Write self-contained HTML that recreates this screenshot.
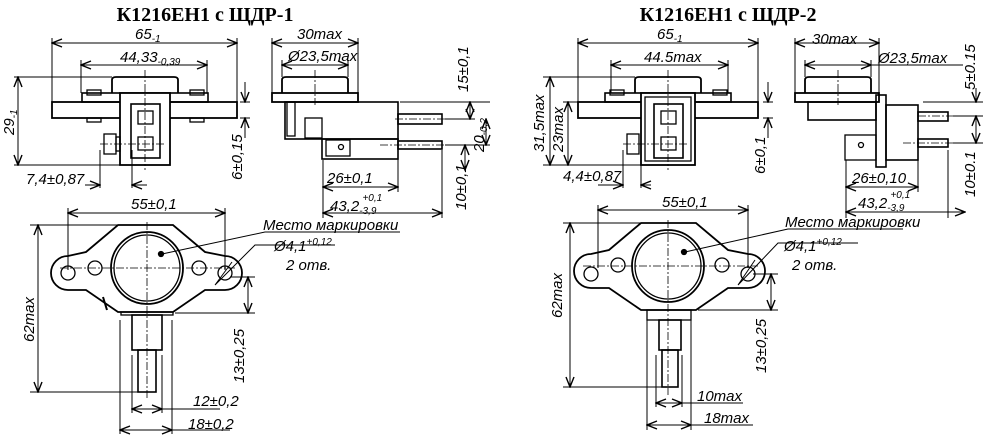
<!DOCTYPE html>
<html><head><meta charset="utf-8"><style>
html,body{margin:0;padding:0;background:#fff}
svg{display:block}
text{font-family:"Liberation Sans",sans-serif;font-style:italic;font-size:15px;fill:#000}
.t{font-family:"Liberation Serif",serif;font-style:normal;font-weight:bold;font-size:20px}
.s{font-size:10px}
.d path{marker-start:url(#b);marker-end:url(#e)}
.o path{marker-end:url(#e)}
</style></head><body>
<svg width="985" height="442" viewBox="0 0 985 442" xmlns="http://www.w3.org/2000/svg">
<defs>
<marker id="e" markerWidth="12" markerHeight="10" refX="11" refY="5" orient="auto" markerUnits="userSpaceOnUse"><path d="M1,1 L11,5 L1,9" fill="none" stroke="#000" stroke-width="1.4"/></marker>
<marker id="b" markerWidth="12" markerHeight="10" refX="1" refY="5" orient="auto" markerUnits="userSpaceOnUse"><path d="M11,1 L1,5 L11,9" fill="none" stroke="#000" stroke-width="1.4"/></marker>
</defs>
<g stroke="#000" stroke-width="1.3" fill="none">
<!-- ===== LEFT ===== -->
<path d="M112,93 L112,80 Q112,77 116,77 L174,77 Q178,77 178,80 L178,93" stroke-width="1.8"/>
<rect x="82" y="93" width="126" height="9" stroke-width="1.6"/>
<rect x="52" y="102" width="185" height="16" stroke-width="1.8"/>
<rect x="87" y="90" width="14" height="5"/><rect x="190" y="90" width="14" height="5"/>
<rect x="87" y="118" width="14" height="4"/><rect x="190" y="118" width="14" height="4"/>
<rect x="120" y="93" width="50" height="72" fill="#fff" stroke-width="1.8"/>
<rect x="131" y="104" width="29" height="54" stroke-width="1.6"/>
<rect x="138" y="111" width="15" height="13"/><rect x="138" y="137" width="15" height="13"/>
<rect x="104" y="134" width="12" height="20"/><rect x="116" y="137" width="4" height="14"/>
<path d="M282,93 L282,80 Q282,77 286,77 L344,77 Q348,77 348,80 L348,93" stroke-width="1.8"/>
<rect x="272" y="93" width="86" height="9" stroke-width="1.8"/>
<rect x="285" y="102" width="113" height="37" stroke-width="1.6"/>
<rect x="322" y="139" width="76" height="20" stroke-width="1.6"/>
<rect x="287" y="102" width="8" height="34"/><rect x="305" y="118" width="17" height="20"/>
<rect x="326" y="140" width="24" height="16"/><circle cx="341" cy="147" r="2.5"/>
<rect x="398" y="114" width="44" height="10" stroke-width="1.6"/>
<rect x="398" y="141" width="44" height="8" stroke-width="1.6"/>
<path d="M118,225 L173,225 L205,252 L225,256 A17,17 0 0 1 225,290 L205,290 L173,312 L118,312 L86,290 L68,290 A17,17 0 0 1 68,256 L86,252 Z" stroke-width="1.8"/>
<circle cx="147" cy="268" r="36" stroke-width="1.8"/><circle cx="147" cy="268" r="33"/>
<circle cx="68" cy="273" r="7"/><circle cx="225" cy="273" r="7"/>
<circle cx="95" cy="268" r="7"/><circle cx="199" cy="268" r="7"/>
<circle cx="161" cy="254" r="2.5" fill="#000"/>
<rect x="121" y="312" width="52" height="3"/>
<rect x="132" y="315" width="30" height="35" stroke-width="1.6"/>
<rect x="138" y="350" width="18" height="42" stroke-width="1.6"/>
<path d="M103,297 L107,310" stroke-width="2"/>
<g stroke-dasharray="8,2,2,2" stroke-width="0.8">
<path d="M145,70 V170 M100,144 H165 M315,70 V105 M395,119 H448 M380,145 H448 M147,222 V400 M60,268 H235"/>
</g>
<g stroke-width="1">
<path d="M52,38 V102 M237,38 V102 M81,60 V93 M207,60 V93 M14,77 H112 M14,165 H120 M100,150 V188 M132,150 V188 M240,102 H250 M240,118 H250 M272,38 V93 M358,38 V93 M282,60 V77 M348,60 V77 M323,160 V218 M398,150 V192 M442,150 V218 M400,102 H490 M445,119 H475 M445,145 H490 M68,208 V270 M225,208 V270 M30,225 H118 M30,392 H138 M230,277 H255 M175,313 H255 M132,355 V413 M162,355 V413 M120,320 V434 M172,320 V434 M162,409 H220 M172,430 H230"/>
<g class="d">
<path d="M52,43 H237"/><path d="M81,65 H207"/><path d="M18,77 V165"/><path d="M272,43 H358"/><path d="M282,65 H348"/><path d="M323,187 H398"/><path d="M323,213 H442"/><path d="M68,213 H225"/><path d="M38,225 V392"/><path d="M248,277 V313"/><path d="M132,409 H162"/><path d="M120,430 H172"/><path d="M470,102 V119"/><path d="M486,119 V145"/><path d="M465,145 V170"/>
</g>
<g class="o"><path d="M245,82 V102"/><path d="M245,138 V118"/><path d="M85,185 H100"/><path d="M147,185 H132"/></g>
<path d="M162,254 L265,232 H400 M215,285 L255,245 H335 M232,262 L215,285"/>
</g>
<!-- ===== RIGHT ===== -->
<g transform="translate(523,0)">
<path d="M112,93 L112,80 Q112,77 116,77 L174,77 Q178,77 178,80 L178,93" stroke-width="1.8"/>
<rect x="82" y="93" width="126" height="9" stroke-width="1.6"/>
<rect x="55" y="102" width="180" height="16" stroke-width="1.8"/>
<rect x="87" y="90" width="14" height="5"/><rect x="190" y="90" width="14" height="5"/>
<rect x="118" y="93" width="54" height="72" fill="#fff" stroke-width="1.8"/>
<rect x="122" y="97" width="46" height="64"/>
<rect x="131" y="104" width="29" height="54" stroke-width="1.6"/>
<rect x="138" y="111" width="15" height="13"/><rect x="138" y="137" width="15" height="13"/>
<rect x="104" y="134" width="12" height="20"/>
<path d="M282,93 L282,80 Q282,77 286,77 L344,77 Q348,77 348,80 L348,93" stroke-width="1.8"/>
<rect x="272" y="93" width="84" height="9" stroke-width="1.8"/>
<rect x="285" y="102" width="68" height="18" stroke-width="1.6"/>
<rect x="353" y="95" width="10" height="72" stroke-width="1.6"/>
<rect x="363" y="105" width="32" height="55" stroke-width="1.6"/>
<rect x="322" y="135" width="31" height="25"/><circle cx="338" cy="145" r="2.5"/>
<rect x="395" y="112" width="30" height="9" stroke-width="1.6"/>
<rect x="395" y="139" width="30" height="8" stroke-width="1.6"/>
<path d="M118,223 L173,223 L205,250 L225,254 A17,17 0 0 1 225,288 L205,288 L173,310 L118,310 L86,288 L68,288 A17,17 0 0 1 68,254 L86,250 Z" stroke-width="1.8"/>
<circle cx="145" cy="266" r="36" stroke-width="1.8"/><circle cx="145" cy="266" r="33"/>
<circle cx="68" cy="274" r="7"/><circle cx="225" cy="274" r="7"/>
<circle cx="95" cy="265" r="7"/><circle cx="199" cy="265" r="7"/>
<circle cx="161" cy="252" r="2.5" fill="#000"/>
<rect x="124" y="310" width="44" height="10"/>
<rect x="136" y="320" width="22" height="30" stroke-width="1.6"/>
<rect x="139" y="350" width="16" height="37" stroke-width="1.6"/>
<g stroke-dasharray="8,2,2,2" stroke-width="0.8">
<path d="M145,70 V170 M100,144 H165 M315,70 V105 M395,116 H440 M380,143 H440 M145,220 V395 M60,266 H235"/>
</g>
<g stroke-width="1">
<path d="M55,38 V102 M235,38 V102 M88,60 V93 M205,60 V93 M20,77 H112 M20,165 H118 M40,102 H55 M100,150 V188 M118,150 V188 M240,102 H250 M240,118 H250 M272,38 V93 M356,38 V93 M282,60 V77 M348,60 V77 M323,160 V218 M395,150 V192 M425,150 V218 M400,102 H460 M430,116 H460 M430,143 H460 M75,205 V268 M225,205 V268 M40,223 H118 M40,387 H139 M230,274 H255 M175,310 H255 M133,355 V407 M159,355 V407 M124,320 V430 M168,320 V430 M159,403 H220 M168,425 H230"/>
<g class="d">
<path d="M55,43 H235"/><path d="M88,65 H205"/><path d="M27,77 V165"/><path d="M45,102 V165"/><path d="M272,43 H356"/><path d="M282,65 H348"/><path d="M323,187 H395"/><path d="M323,212 H442"/><path d="M75,210 H225"/><path d="M47,223 V387"/><path d="M248,274 V310"/><path d="M133,403 H159"/><path d="M124,425 H168"/><path d="M453,116 V143"/>
</g>
<g class="o"><path d="M245,82 V102"/><path d="M245,138 V118"/><path d="M75,185 H100"/><path d="M128,185 H118"/><path d="M453,88 V102"/></g>
<path d="M345,65 H440 M162,252 L265,229 H380 M215,285 L255,243 H335 M232,260 L215,285"/>
</g>
</g>
</g>
<text class="t" x="205" y="21" text-anchor="middle">К1216ЕН1 с ЩДР-1</text>
<text class="t" x="728" y="21" text-anchor="middle">К1216ЕН1 с ЩДР-2</text>
<text x="135" y="39">65<tspan class="s" dy="3">-1</tspan></text>
<text x="120" y="62">44,33<tspan class="s" dy="3">-0,39</tspan></text>
<text x="297" y="39">30max</text>
<text x="288" y="61">Ø23,5max</text>
<text x="26" y="184">7,4±0,87</text>
<text x="327" y="183">26±0,1</text>
<text x="330" y="211">43,2<tspan class="s" dy="3">-3,9</tspan><tspan class="s" dx="-14" dy="-13">+0,1</tspan></text>
<text x="131" y="209">55±0,1</text>
<text x="263" y="230">Место маркировки</text>
<text x="274" y="251">Ø4,1<tspan class="s" dy="-6">+0,12</tspan></text>
<text x="286" y="270">2 отв.</text>
<text x="193" y="406">12±0,2</text>
<text x="188" y="429">18±0,2</text>
<text transform="translate(14,135) rotate(-90)">29<tspan class="s" dy="3">-1</tspan></text>
<text transform="translate(242,180) rotate(-90)">6±0,15</text>
<text transform="translate(34,342) rotate(-90)">62max</text>
<text transform="translate(244,383) rotate(-90)">13±0,25</text>
<text transform="translate(468,92) rotate(-90)">15±0,1</text>
<text transform="translate(484,152) rotate(-90)">20<tspan class="s" dy="3">-0,2</tspan></text>
<text transform="translate(466,210) rotate(-90)">10±0,1</text>
<text x="657" y="39">65<tspan class="s" dy="3">-1</tspan></text>
<text x="644" y="62">44.5max</text>
<text x="812" y="44">30max</text>
<text x="878" y="63">Ø23,5max</text>
<text x="563" y="181">4,4±0,87</text>
<text x="852" y="183">26±0,10</text>
<text x="858" y="208">43,2<tspan class="s" dy="3">-3,9</tspan><tspan class="s" dx="-14" dy="-13">+0,1</tspan></text>
<text x="662" y="207">55±0,1</text>
<text x="785" y="227">Место маркировки</text>
<text x="784" y="251">Ø4,1<tspan class="s" dy="-6">+0,12</tspan></text>
<text x="792" y="270">2 отв.</text>
<text x="697" y="401">10max</text>
<text x="704" y="423">18max</text>
<text transform="translate(544,152) rotate(-90)">31,5max</text>
<text transform="translate(563,152) rotate(-90)">23max</text>
<text transform="translate(765,174) rotate(-90)">6±0,1</text>
<text transform="translate(562,318) rotate(-90)">62max</text>
<text transform="translate(766,373) rotate(-90)">13±0,25</text>
<text transform="translate(975,90) rotate(-90)">5±0.15</text>
<text transform="translate(975,197) rotate(-90)">10±0.1</text>
</svg>
</body></html>
